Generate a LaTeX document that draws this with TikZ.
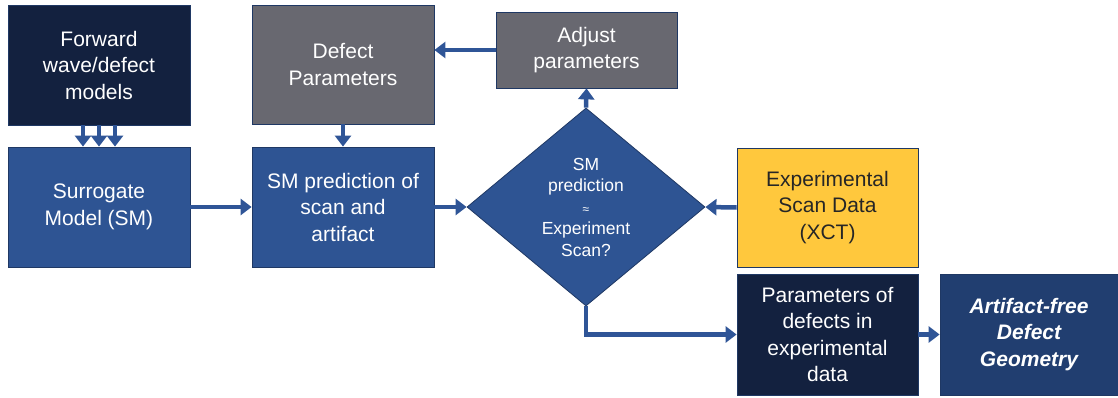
\documentclass[tikz,border=0pt]{standalone}
\usepackage{fontspec}
\setmainfont{Liberation Sans}
\usetikzlibrary{arrows.meta,shapes.geometric}
\definecolor{navy}{HTML}{13213F}
\definecolor{midblue}{HTML}{2E5493}
\definecolor{greybox}{HTML}{686870}
\definecolor{yellowbox}{HTML}{FFC83D}
\definecolor{artblue}{HTML}{213E70}
\definecolor{edgeblue}{HTML}{1F3864}
\definecolor{arrowblue}{HTML}{2F5597}
\begin{document}
\begin{tikzpicture}[x=1pt,y=-1pt,
  box/.style={rectangle, draw=edgeblue, line width=0.8pt, text=white, align=center,
    font=\fontsize{21}{26.5}\selectfont, inner sep=2pt},
  flow/.style={draw=arrowblue, line width=4.5pt, -{Triangle[width=16pt,length=11pt]}}]
\useasboundingbox (0,0) rectangle (1118,398);
\node[box, fill=navy, minimum width=182pt, minimum height=120pt] (fwd) at (99,65) {Forward\\wave/defect\\models};
\node[box, fill=midblue, minimum width=182pt, minimum height=120pt] (sur) at (99,207) {Surrogate\\Model (SM)};
\node[box, fill=greybox, minimum width=182pt, minimum height=119pt] (dp) at (343,64.5) {Defect\\Parameters};
\node[box, fill=midblue, minimum width=182pt, minimum height=120pt] (smp) at (343,207) {SM prediction of\\scan and\\artifact};
\node[box, fill=greybox, minimum width=181pt, minimum height=76pt] (adj) at (586.5,50) {Adjust\\parameters};
\node[diamond, fill=midblue, draw=edgeblue, line width=0.8pt, inner sep=0pt, aspect=1.2,
  minimum width=238pt, minimum height=198pt, text=white, align=center,
  font=\fontsize{17.5}{21.5}\selectfont] (dia) at (586,207) {SM\\prediction\\{\fontsize{12}{21.5}\selectfont ≈}\\Experiment\\Scan?};
\node[box, fill=yellowbox, text=black!85, minimum width=181pt, minimum height=119pt] (exp) at (827.5,207.5) {Experimental\\Scan Data\\(XCT)};
\node[box, fill=navy, minimum width=181pt, minimum height=121pt] (par) at (827.5,334.5) {Parameters of\\defects in\\experimental\\data};
\node[box, fill=artblue, minimum width=178pt, minimum height=121pt, font=\fontsize{21}{26.5}\selectfont\bfseries\itshape] (art) at (1029,334.5) {Artifact-free\\Defect\\Geometry};
% connectors
\draw[flow] ([xshift=-16pt]fwd.south) -- ([xshift=-16pt]sur.north);
\draw[flow] (fwd.south) -- (sur.north);
\draw[flow] ([xshift=16pt]fwd.south) -- ([xshift=16pt]sur.north);
\draw[flow] (sur.east) -- (smp.west);
\draw[flow] (dp.south) -- (smp.north);
\draw[flow] (smp.east) -- (dia.west);
\draw[flow] (adj.west) -- (adj.west -| dp.east);
\draw[flow] (dia.north) -- (adj.south);
\draw[flow] (exp.west) -- (dia.east);
\draw[flow] (dia.south) |- (par.west);
\draw[flow] (par.east) -- (art.west);
\end{tikzpicture}
\end{document}
